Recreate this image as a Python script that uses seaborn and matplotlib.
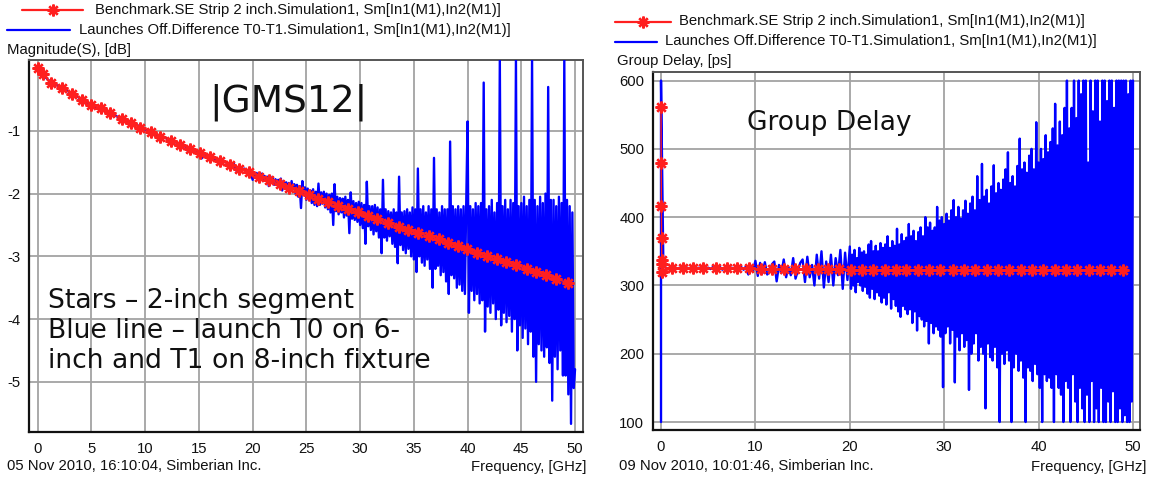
import numpy as np
import pandas as pd
import matplotlib
matplotlib.use("Agg")
import matplotlib.pyplot as plt
from matplotlib.lines import Line2D
import seaborn as sns

# ---------------- data ----------------
# Left panel: |S21| magnitude, dB
mag_star_f = [0.0, 0.52, 1.24, 2.29, 3.16, 4.15, 4.93, 5.86, 6.73, 7.81, 8.68, 9.52,
              10.54, 11.38, 12.4, 13.24, 14.17, 15.1, 16.04, 16.97, 17.9, 18.75, 19.68,
              20.6, 21.5, 22.5, 23.4, 24.3, 25.2, 26.1, 27.0, 27.96, 28.9, 29.8, 30.75,
              31.6, 32.55, 33.6, 34.5, 35.4, 36.4, 37.3, 38.2, 39.1, 39.9, 40.9, 41.8,
              42.7, 43.6, 44.5, 45.5, 46.4, 47.3, 48.2, 49.3]
mag_star_db = [0.0, -0.10, -0.24, -0.32, -0.41, -0.50, -0.58, -0.64, -0.72, -0.81, -0.88, -0.95,
               -1.02, -1.09, -1.16, -1.22, -1.29, -1.36, -1.41, -1.48, -1.54, -1.60, -1.66,
               -1.73, -1.79, -1.85, -1.91, -1.96, -2.02, -2.08, -2.13, -2.19, -2.25, -2.30, -2.36,
               -2.41, -2.47, -2.53, -2.58, -2.63, -2.68, -2.73, -2.78, -2.84, -2.89, -2.95, -3.00,
               -3.05, -3.09, -3.14, -3.20, -3.25, -3.30, -3.36, -3.42]

# blue trace, 0 .. 19.75 GHz every 0.25 GHz
mag_blue_lo_db = [
    0.00, -0.05, -0.10, -0.15,
    -0.19, -0.22, -0.25, -0.27,
    -0.29, -0.31, -0.34, -0.36,
    -0.39, -0.41, -0.45, -0.46,
    -0.49, -0.51, -0.54, -0.56,
    -0.58, -0.60, -0.63, -0.64,
    -0.66, -0.69, -0.72, -0.72,
    -0.74, -0.76, -0.78, -0.83,
    -0.82, -0.84, -0.86, -0.88,
    -0.91, -0.90, -0.95, -0.96,
    -0.98, -1.00, -1.06, -1.03,
    -1.06, -1.07, -1.10, -1.10,
    -1.12, -1.20, -1.14, -1.17,
    -1.20, -1.19, -1.24, -1.25,
    -1.33, -1.27, -1.31, -1.32,
    -1.35, -1.44, -1.36, -1.40,
    -1.41, -1.43, -1.46, -1.45,
    -1.56, -1.47, -1.50, -1.53,
    -1.55, -1.52, -1.64, -1.56,
    -1.62, -1.60, -1.67, -1.63]
# blue trace, 20 .. 50 GHz every 0.125 GHz
mag_blue_hi_db = [
    -1.78, -1.66, -1.72, -1.67, -1.74, -1.69, -1.73, -1.68,   # 20
    -1.80, -1.72, -1.78, -1.73, -1.88, -1.72, -1.80, -1.75,   # 21
    -1.86, -1.77, -1.84, -1.78, -1.90, -1.76, -1.95, -1.80,   # 22
    -1.92, -1.82, -1.90, -1.83, -1.97, -1.80, -1.93, -1.85,   # 23
    -2.00, -1.86, -2.05, -1.88, -2.23, -1.80, -2.02, -1.90,   # 24
    -2.10, -1.92, -2.08, -1.95, -2.15, -1.93, -2.18, -1.97,   # 25
    -2.20, -1.84, -2.18, -1.98, -2.16, -1.97, -2.22, -2.00,   # 26
    -2.25, -2.02, -2.30, -2.00, -2.50, -1.85, -2.28, -2.05,   # 27
    -2.33, -2.07, -2.30, -2.08, -2.38, -2.05, -2.35, -2.10,   # 28
    -2.63, -1.98, -2.40, -2.12, -2.42, -2.15, -2.45, -2.13,   # 29
    -2.50, -2.15, -2.55, -2.18, -2.80, -1.81, -2.52, -2.20,   # 30
    -2.58, -2.20, -2.65, -2.18, -2.60, -2.22, -2.70, -2.25,   # 31
    -2.95, -1.78, -2.70, -2.25, -2.75, -2.28, -2.68, -2.30,   # 32
    -2.80, -2.25, -2.85, -2.30, -3.11, -1.73, -2.82, -2.30,   # 33
    -2.90, -2.28, -2.95, -2.25, -2.88, -2.30, -3.00, -2.22,   # 34
    -3.05, -2.25, -3.25, -1.60, -3.00, -2.25, -3.10, -2.20,   # 35
    -3.15, -2.30, -3.05, -2.20, -3.20, -2.25, -3.50, -1.43,   # 36
    -3.20, -2.25, -3.15, -2.30, -3.30, -2.20, -3.25, -2.25,   # 37
    -3.40, -2.25, -3.60, -1.17, -3.30, -2.20, -3.35, -2.25,   # 38
    -3.50, -2.20, -3.45, -2.25, -3.55, -2.20, -3.60, -2.15,   # 39
    -0.85, -3.90, -2.20, -3.55, -2.25, -3.70, -2.15, -3.60,   # 40
    -2.20, -3.75, -2.15, -3.70, -0.23, -4.20, -2.25, -3.80,   # 41
    -2.20, -3.90, -2.10, -3.75, -2.30, -4.00, -2.15, -3.85,   # 42
    0.13, -4.10, -2.20, -3.90, -2.10, -4.05, -2.25, -3.95,    # 43
    -2.10, -4.20, -2.15, -4.00, 0.13, -4.50, -2.20, -4.10,    # 44
    -2.15, -4.30, -2.05, -4.15, -2.20, -4.40, -2.10, -4.20,   # 45
    0.13, -4.60, -2.10, -5.00, -2.20, -4.40, -2.05, -4.50,    # 46
    -2.15, -4.60, -2.00, -4.45, -0.30, -4.70, -2.10, -5.30,   # 47
    -2.10, -4.60, -2.20, -4.80, -2.05, -4.50, -2.15, -4.90,   # 48
    0.13, -4.90, -2.10, -5.20, -2.20, -5.67, -2.30, -5.10,    # 49
    -4.80]

# Right panel: group delay, ps
gd_star_f = [0.0, 0.02, 0.04, 0.06, 0.08, 0.10, 0.12, 1.13, 2.3, 3.4, 4.5, 5.8, 7.0, 8.1,
             9.35, 10.55, 11.8, 13.0, 14.2, 15.4, 16.6, 17.7, 18.9, 20.1, 21.3, 22.5, 23.7,
             24.9, 26.0, 27.2, 28.4, 29.6, 30.9, 32.1, 33.3, 34.5, 35.7, 36.9, 38.1, 39.3,
             40.5, 41.7, 42.9, 44.1, 45.3, 46.5, 47.7, 48.9]
gd_star_ps = [562, 479, 417, 369, 337, 331, 319, 325, 325, 325, 325, 325, 325, 325,
              325, 324, 324, 324, 324, 324, 324, 324, 324, 323, 323, 323, 323,
              323, 323, 323, 323, 323, 323, 323, 323, 323, 323, 323, 323, 323,
              323, 323, 323, 323, 323, 323, 323, 323]

# start of blue trace: vertical stroke at 0 GHz
gd_blue_head_f = [0.0]
gd_blue_head_ps = [100]
# blue trace, 0 .. 19.75 GHz every 0.25 GHz
gd_blue_lo_ps = [
    600, 328, 326, 325,
    326, 325, 326, 325,
    326, 325, 325, 326,
    325, 326, 325, 324,
    326, 325, 327, 324,
    326, 324, 327, 325,
    324, 327, 323, 326,
    327, 323, 326, 324,
    328, 322, 327, 323,
    328, 316, 329, 322,
    336, 314, 333, 318,
    334, 316, 320, 331,
    335, 306, 330, 318,
    338, 312, 327, 315,
    340, 310, 322, 333,
    338, 305, 342, 312,
    330, 300, 345, 310,
    350, 297, 335, 305,
    345, 300, 340, 315,
    352, 295, 348, 308]
# blue trace, 20 .. 50 GHz every 0.125 GHz
gd_blue_hi_ps = [
    357, 295, 345, 300, 352, 290, 340, 305,   # 20
    355, 300, 348, 292, 350, 298, 345, 288,   # 21
    360, 282, 365, 295, 350, 280, 358, 290,   # 22
    350, 285, 362, 275, 355, 282, 360, 272,   # 23
    372, 290, 355, 266, 365, 280, 358, 270,   # 24
    383, 262, 360, 254, 375, 270, 365, 265,   # 25
    370, 258, 390, 265, 372, 245, 380, 262,   # 26
    365, 234, 378, 255, 385, 250, 372, 240,   # 27
    400, 248, 385, 215, 392, 245, 380, 230,   # 28
    385, 240, 415, 235, 395, 225, 400, 151,   # 29
    390, 230, 405, 240, 395, 215, 410, 235,   # 30
    425, 158, 400, 225, 415, 205, 398, 230,   # 31
    410, 210, 424, 220, 405, 147, 420, 200,   # 32
    430, 215, 410, 230, 460, 190, 425, 210,   # 33
    478, 200, 430, 120, 440, 215, 420, 195,   # 34
    445, 190, 476, 210, 435, 180, 450, 100,   # 35
    440, 200, 455, 185, 470, 205, 495, 190,   # 36
    450, 100, 460, 180, 445, 200, 475, 175,   # 37
    515, 190, 470, 165, 480, 100, 465, 180,   # 38
    490, 175, 500, 160, 470, 185, 539, 170,   # 39
    480, 150, 500, 100, 485, 170, 520, 160,   # 40
    495, 165, 510, 150, 530, 100, 566, 170,   # 41
    505, 150, 540, 140, 520, 100, 560, 160,   # 42
    600, 150, 530, 100, 560, 170, 600, 130,   # 43
    545, 100, 600, 150, 580, 120, 600, 100,   # 44
    600, 140, 480, 100, 600, 160, 555, 100,   # 45
    600, 120, 600, 100, 540, 150, 600, 100,   # 46
    600, 100, 570, 130, 600, 100, 600, 145,   # 47
    560, 100, 600, 100, 600, 120, 600, 100,   # 48
    600, 110, 600, 100, 580, 100, 600, 130,   # 49
    600]

mag_xticks = [0, 5, 10, 15, 20, 25, 30, 35, 40, 45, 50]
mag_yticks = [-5, -4, -3, -2, -1]
gd_xticks = [0, 10, 20, 30, 40, 50]
gd_yticks = [100, 200, 300, 400, 500, 600]

legend_red = "Benchmark.SE Strip 2 inch.Simulation1, Sm[In1(M1),In2(M1)]"
legend_blue = "Launches Off.Difference T0-T1.Simulation1, Sm[In1(M1),In2(M1)]"

# sampling grids of the blue traces
STEP_LO, STEP_HI, F_SPLIT = 0.25, 0.125, 20.0


def grid(n_lo, n_hi):
    return list(np.arange(n_lo) * STEP_LO) + list(F_SPLIT + np.arange(n_hi) * STEP_HI)


# ---------------- style ----------------
sns.set_style("white")
plt.rcParams['font.family'] = ['Liberation Sans', 'DejaVu Sans']
plt.rcParams['axes.unicode_minus'] = False

W, H = 1153, 478
fig = plt.figure(figsize=(W / 100, H / 100), dpi=100)
fig.patch.set_facecolor("white")


def fx(px):
    return px / W


def fy(py):
    return 1 - py / H


RED = "#ff1f1f"
BLUE = "#0000ff"
GRID = "#a3a3a3"
STAR = (8, 2, 0)
FS = 10.7

ax1 = fig.add_axes([fx(29), fy(432), (583 - 29) / W, (432 - 60) / H])
ax2 = fig.add_axes([fx(652.7), fy(430), (1140 - 652.7) / W, (430 - 71.7) / H])

# ---- left panel ----
mag_df = pd.DataFrame({"f": grid(len(mag_blue_lo_db), len(mag_blue_hi_db)),
                       "v": mag_blue_lo_db + mag_blue_hi_db})
sns.lineplot(data=mag_df, x="f", y="v", ax=ax1, color=BLUE, lw=1.7,
             estimator=None, sort=False, zorder=3)
mag_star_df = pd.DataFrame({"f": mag_star_f, "v": mag_star_db})
sns.lineplot(data=mag_star_df, x="f", y="v", ax=ax1, color=RED, lw=1.0,
             marker=STAR, markersize=8.5, markeredgewidth=1.7, markeredgecolor=RED,
             estimator=None, sort=False, zorder=4)
ax1.set_xlim(-0.81, 50.74)
ax1.set_ylim(-5.80, 0.13)
ax1.set_xticks(mag_xticks)
ax1.set_xticklabels([str(t) for t in mag_xticks])
ax1.set_yticks(mag_yticks)
ax1.set_yticklabels([str(t) for t in mag_yticks])

# ---- right panel ----
gd_f = list(gd_blue_head_f) + grid(len(gd_blue_lo_ps), len(gd_blue_hi_ps))
gd_v = list(gd_blue_head_ps) + gd_blue_lo_ps + gd_blue_hi_ps
gd_df = pd.DataFrame({"f": gd_f, "v": gd_v})
sns.lineplot(data=gd_df, x="f", y="v", ax=ax2, color=BLUE, lw=1.7,
             estimator=None, sort=False, zorder=3)
gd_star_df = pd.DataFrame({"f": gd_star_f, "v": gd_star_ps})
sns.lineplot(data=gd_star_df, x="f", y="v", ax=ax2, color=RED, lw=1.0,
             marker=STAR, markersize=8.5, markeredgewidth=1.7, markeredgecolor=RED,
             estimator=None, sort=False, zorder=4)
ax2.set_xlim(-0.88, 50.74)
ax2.set_ylim(88.3, 613)
ax2.set_xticks(gd_xticks)
ax2.set_xticklabels([str(t) for t in gd_xticks])
ax2.set_yticks(gd_yticks)
ax2.set_yticklabels([str(t) for t in gd_yticks])

for ax in (ax1, ax2):
    ax.set_xlabel("")
    ax.set_ylabel("")
    ax.set_facecolor("white")
    ax.grid(True, color=GRID, lw=1.3, zorder=0)
    ax.set_axisbelow(True)
    ax.tick_params(axis="x", direction="inout", length=8, width=1.3, pad=3,
                   labelsize=FS, colors="#111111")
    ax.tick_params(axis="y", direction="out", length=4, width=1.3, pad=2,
                   labelsize=FS, colors="#111111")
    for s in ("left", "bottom"):
        ax.spines[s].set_color("#111111")
        ax.spines[s].set_linewidth(1.6)
    for s in ("top", "right"):
        ax.spines[s].set_color("#555555")
        ax.spines[s].set_linewidth(1.4)
    if ax.get_legend() is not None:
        ax.get_legend().remove()


# ---- legends / labels drawn in figure pixels ----
def legend_row(x0, x1, y, color, text_x, text, star):
    fig.add_artist(Line2D([fx(x0), fx(x1)], [fy(y), fy(y)], color=color, lw=1.6,
                          transform=fig.transFigure))
    if star:
        fig.add_artist(Line2D([fx((x0 + x1) / 2)], [fy(y)], color=color, lw=0,
                              marker=STAR, markersize=8.5, markeredgewidth=1.7,
                              transform=fig.transFigure))
    fig.text(fx(text_x), fy(y), text, ha="left", va="center", fontsize=FS,
             color="#111111")


legend_row(22, 83, 10, RED, 95, legend_red, True)
legend_row(7, 70, 30, BLUE, 79, legend_blue, False)
fig.text(fx(7), fy(50), "Magnitude(S), [dB]", ha="left", va="center", fontsize=FS,
         color="#111111")

legend_row(615, 671, 21.5, RED, 679, legend_red, True)
legend_row(615, 657, 41.5, BLUE, 665, legend_blue, False)
fig.text(fx(617), fy(61.5), "Group Delay, [ps]", ha="left", va="center", fontsize=FS,
         color="#111111")

fig.text(fx(7), fy(466), "05 Nov 2010, 16:10:04, Simberian Inc.", ha="left", va="center",
         fontsize=FS, color="#111111")
fig.text(fx(586), fy(467), "Frequency, [GHz]", ha="right", va="center", fontsize=FS,
         color="#111111")
fig.text(fx(619), fy(466), "09 Nov 2010, 10:01:46, Simberian Inc.", ha="left", va="center",
         fontsize=FS, color="#111111")
fig.text(fx(1146), fy(467), "Frequency, [GHz]", ha="right", va="center", fontsize=FS,
         color="#111111")

# ---- annotations ----
fig.text(fx(288), fy(102), "|GMS12|", ha="center", va="center", fontsize=27,
         family="DejaVu Sans", color="#111111")
fig.text(fx(747), fy(123), "Group Delay", ha="left", va="center", fontsize=19,
         family="DejaVu Sans", color="#111111")
note = "Stars \u2013 2-inch segment\nBlue line \u2013 launch T0 on 6-\ninch and T1 on 8-inch fixture"
fig.text(fx(48), fy(331), note, ha="left", va="center", fontsize=19.2,
         family="DejaVu Sans", color="#111111", linespacing=1.22)

fig.savefig("out.png", dpi=100, facecolor="white")
